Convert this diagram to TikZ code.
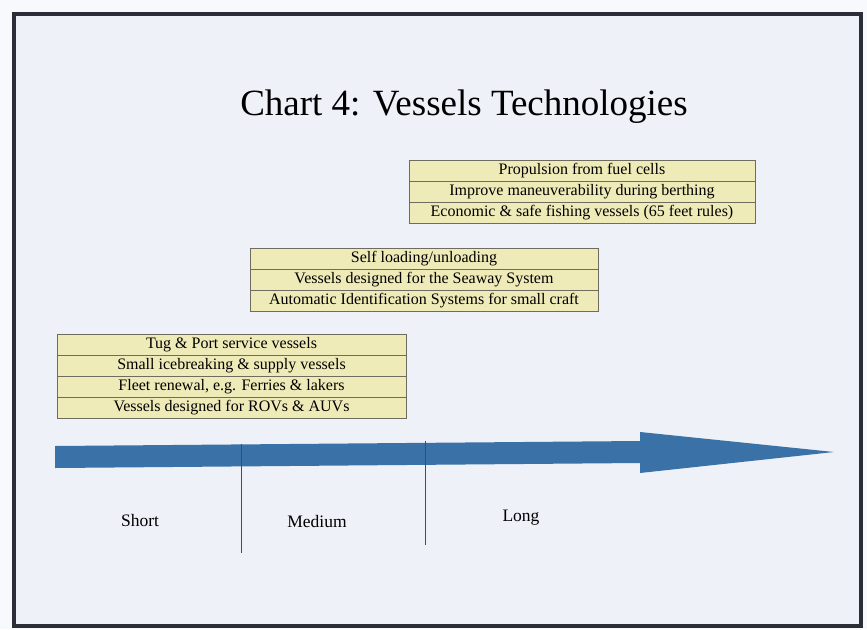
\documentclass[tikz,border=0pt]{standalone}
\usepackage{fontspec}
\setmainfont{Liberation Serif}
\usetikzlibrary{positioning}
\definecolor{slidebg}{HTML}{EEF1F8}
\definecolor{rowfill}{HTML}{EFEBB8}
\definecolor{rowline}{HTML}{6E6C5E}
\definecolor{arrowblue}{HTML}{3A72A8}
\definecolor{frameline}{HTML}{2B2E36}

\begin{document}
\begin{tikzpicture}[x=1pt, y=-1pt,
             every node/.style={font=\fontsize{16}{17}\selectfont},
             row/.style={rectangle, draw=rowline, fill=rowfill, line width=1pt,
                         minimum height=21pt, inner sep=0pt, outer sep=0pt},
             term/.style={font=\fontsize{17.5}{19}\selectfont},
             divider/.style={draw=black!70, line width=0.6pt}]
\useasboundingbox (0,0) rectangle (867,629);
\fill[white!60!slidebg] (0,0) rectangle (867,629);
%% slide frame
\draw[frameline, fill=slidebg, line width=3.5pt] (14,14) rectangle (861,626);
\node[font=\fontsize{37}{40}\selectfont] (title) at (464,107) {Chart 4: Vessels Technologies};

%% Long term
\node[row, minimum width=346pt] (longA) at (582,170.5) {Propulsion from fuel cells};
\node[row, minimum width=346pt, below=0pt of longA] (longB) {Improve maneuverability during berthing};
\node[row, minimum width=346pt, below=0pt of longB] (longC) {Economic \& safe fishing vessels (65 feet rules)};

%% Medium term
\node[row, minimum width=348pt] (medA) at (424,258.5) {Self loading/unloading};
\node[row, minimum width=348pt, below=0pt of medA] (medB) {Vessels designed for the Seaway System};
\node[row, minimum width=348pt, below=0pt of medB] (medC) {Automatic Identification Systems for small craft};

%% Short term
\node[row, minimum width=349pt] (shortA) at (231.5,344.5) {Tug \& Port service vessels};
\node[row, minimum width=349pt, below=0pt of shortA] (shortB) {Small icebreaking \& supply vessels};
\node[row, minimum width=349pt, below=0pt of shortB] (shortC) {Fleet renewal, e.g. Ferries \& lakers};
\node[row, minimum width=349pt, below=0pt of shortC] (shortD) {Vessels designed for ROVs \& AUVs};

%% time arrow
\fill[arrowblue] (55,446) -- (640,441) -- (640,432) -- (834,452)
  -- (640,473) -- (640,463) -- (55,468) -- cycle;
\coordinate (cutA) at (241,444);
\coordinate (cutAend) at (241,553);
\coordinate (cutB) at (425,441);
\coordinate (cutBend) at (425,545);
\draw[divider] (cutA) -- (cutAend);
\draw[divider] (cutB) -- (cutBend);

\node[term] (short) at (140,521) {Short};
\node[term] (medium) at (317,522) {Medium};
\node[term] (long) at (521,518) {Long};
\end{tikzpicture}
\end{document}
